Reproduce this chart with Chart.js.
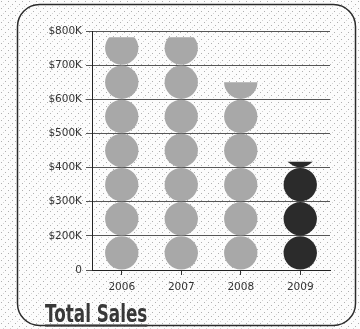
<!DOCTYPE html>
<html>
<head>
<meta charset="utf-8">
<script src="https://cdn.jsdelivr.net/npm/chart.js@4.4.1/dist/chart.umd.min.js"></script>
<style>
  html, body { margin: 0; padding: 0; background: #fff; }
  #wrap { width: 360px; height: 329px; }
</style>
</head>
<body>
<div id="wrap"><canvas id="chart" width="360" height="329"></canvas></div>
<script>
// data (thousands of dollars) - axis baseline is labelled "0" but sits at $100K
const years = ["2006", "2007", "2008", "2009"];
const sales = [782, 782, 650, 417];
const yTickValues = [100, 200, 300, 400, 500, 600, 700, 800];
const yTickLabels = ["0", "$200K", "$300K", "$400K", "$500K", "$600K", "$700K", "$800K"];
const unit = 100; // one circle = one band

const lightFill = "#a8a8a8";
const darkFill = "#2b2b2b";
const circleColors = years.map((y, i) => (i === years.length - 1 ? darkFill : lightFill));

// dotted paper texture
const makeTexture = () => {
  const c = document.createElement("canvas");
  c.width = 7; c.height = 7;
  const g = c.getContext("2d");
  g.fillStyle = "#fcfcfc";
  g.fillRect(0, 0, 7, 7);
  g.fillStyle = "#b0b0b0";
  g.fillRect(1, 1, 1, 1);
  g.fillRect(5, 4, 1, 1);
  g.fillStyle = "#d4d4d4";
  g.fillRect(3, 6, 1, 1);
  return c;
};

const roundRect = (ctx, x, y, w, h, r) => {
  ctx.beginPath();
  ctx.moveTo(x + r, y);
  ctx.lineTo(x + w - r, y);
  ctx.arcTo(x + w, y, x + w, y + r, r);
  ctx.lineTo(x + w, y + h - r);
  ctx.arcTo(x + w, y + h, x + w - r, y + h, r);
  ctx.lineTo(x + r, y + h);
  ctx.arcTo(x, y + h, x, y + h - r, r);
  ctx.lineTo(x, y + r);
  ctx.arcTo(x, y, x + r, y, r);
  ctx.closePath();
};

const framePlugin = {
  id: "frame",
  beforeDraw(chart) {
    const ctx = chart.ctx;
    ctx.save();
    ctx.fillStyle = ctx.createPattern(makeTexture(), "repeat");
    ctx.fillRect(0, 0, chart.width, chart.height);
    roundRect(ctx, 17.5, 4.5, 338, 321, 22);
    ctx.strokeStyle = "#2a2a2a";
    ctx.lineWidth = 1.5;
    ctx.stroke();
    ctx.restore();
  },
  afterDraw(chart) {
    const ctx = chart.ctx;
    ctx.save();
    ctx.translate(45, 322);
    ctx.scale(0.7, 1.02);
    ctx.font = "bold 24px 'DejaVu Sans', sans-serif";
    ctx.fillStyle = "#383838";
    ctx.textBaseline = "alphabetic";
    ctx.fillText("Total Sales", 0, 0);
    const w = ctx.measureText("Total Sales").width;
    ctx.fillRect(0, 2.5, w, 2);
    ctx.restore();
  }
};

// stacked circles, one per band, clipped at the value
const circlesPlugin = {
  id: "circles",
  beforeDatasetDraw() {
    return false;
  },
  afterDatasetsDraw(chart) {
    const ctx = chart.ctx;
    const y = chart.scales.y;
    const area = chart.chartArea;
    const meta = chart.getDatasetMeta(0);
    const start = y.min;
    const r = (y.getPixelForValue(start) - y.getPixelForValue(start + unit)) / 2 - 0.4;
    meta.data.forEach((bar, i) => {
      const v = sales[i];
      const top = y.getPixelForValue(v);
      const base = y.getPixelForValue(start);
      ctx.save();
      ctx.beginPath();
      ctx.rect(area.left, top, area.right - area.left, base - top);
      ctx.clip();
      ctx.fillStyle = circleColors[i];
      for (let b = start; b < v; b += unit) {
        const cy = y.getPixelForValue(b + unit / 2);
        ctx.beginPath();
        ctx.arc(bar.x, cy, r, 0, Math.PI * 2);
        ctx.fill();
      }
      ctx.restore();
    });
  }
};

new Chart(document.getElementById("chart"), {
  type: "bar",
  data: {
    labels: years,
    datasets: [{
      label: "Total Sales",
      data: sales,
      backgroundColor: "rgba(0,0,0,0)"
    }]
  },
  options: {
    responsive: false,
    animation: false,
    devicePixelRatio: 1,
    layout: { padding: { top: 31, right: 30, left: 0, bottom: 0 } },
    plugins: {
      legend: { display: false },
      tooltip: { enabled: false }
    },
    scales: {
      x: {
        offset: true,
        afterFit: (scale) => { scale.height = 59; },
        grid: {
          offset: false,
          drawOnChartArea: false,
          tickLength: 5,
          color: "#333"
        },
        border: { color: "#222", width: 1 },
        ticks: {
          padding: 6,
          color: "#333",
          font: { family: "'DejaVu Sans'", size: 10.5 }
        }
      },
      y: {
        min: 100,
        max: 800,
        afterFit: (scale) => { scale.width = 92; },
        afterBuildTicks: (scale) => { scale.ticks = yTickValues.map(v => ({ value: v })); },
        grid: {
          color: "#555",
          lineWidth: 1,
          tickLength: 6
        },
        border: { color: "#222", width: 1 },
        ticks: {
          padding: 4,
          color: "#333",
          font: { family: "'DejaVu Sans'", size: 10.5 },
          callback: (v) => yTickLabels[yTickValues.indexOf(v)]
        }
      }
    }
  },
  plugins: [framePlugin, circlesPlugin]
});
</script>
</body>
</html>
